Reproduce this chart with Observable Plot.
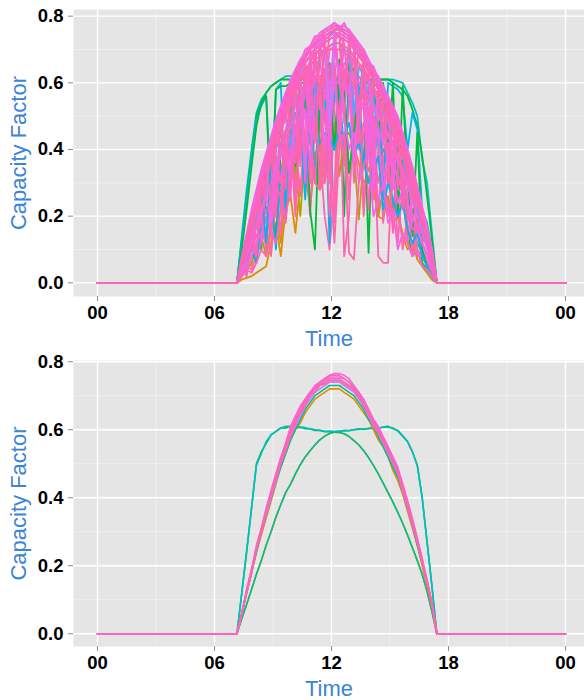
<!DOCTYPE html>
<html><head><meta charset="utf-8">
<script src="https://cdn.jsdelivr.net/npm/d3@7"></script>
<script src="https://cdn.jsdelivr.net/npm/@observablehq/plot@0.6"></script>
<style>
body{margin:0;background:#fff;font-family:"Liberation Sans",Arial,Helvetica,sans-serif;}
#chart svg{display:block}
</style></head><body><div id="chart"></div>
<script>
// time of day (hours) of the daytime samples; night is flat zero from 00 to 24
const hours = [7.15,7.4,7.65,7.9,8.15,8.4,  8.65,8.9,9.15,9.4,9.65,9.9,  10.15,10.4,10.65,10.9,11.15,11.4,
  11.65,11.9,12.15,12.4,12.65,12.9,  13.15,13.4,13.65,13.9,14.15,14.4,  14.65,14.9,15.15,15.4,15.65,15.9,
  16.15,16.4,16.65,16.9,17.15,17.4];
const dayStart = 0, dayEnd = 24;
const xTicks = [0,6,12,18,24];
const xTickLabels = ["00","06","12","18","00"];
const yTicks = [0,0.2,0.4,0.6,0.8];
const yTickLabels = ["0.0","0.2","0.4","0.6","0.8"];
const xMinor = [3,9,15,21];
const yMinor = [0.1,0.3,0.5,0.7];
const xTitle = "Time";
const yTitle = "Capacity Factor";
const clusters = [1,2,3,4,5,6,7,8,9,10,11,12];

// ---- top panel: daily capacity factor (percent) ----
const topO1 = [0,1,1.5,2,3,4, 5,12,18,8,22,26, 15,30,34,22,38,28, 36,42,40,45,43,33, 41,36,30,32,28,20, 19,26,18,20,14,10, 12,7,5,3,1,0];
const topP11 = [0,4,9,5,18,22, 14,31,35,22,44,47, 30,53,56,42,60,62, 48,65,66,52,66,65, 40,62,60,45,56,54, 35,48,45,30,38,33, 20,24,18,12,6,0];
const topG2 = [0,4,8,12,18,10, 26,30,12,40,44,48, 22,55,30,60,62,30, 64,66,40,67,20,66, 64,50,62,60,28,55, 52,48,18,42,38,15, 8,20,6,4,2,0];
const topP6 = [0,5,9,14,20,24, 12,35,38,30,45,50, 25,55,58,30,62,40, 20,10,28,65,8,20, 60,55,25,40,50,20, 45,40,18,35,30,15, 22,10,8,6,3,0];
const topO2 = [0,2,4,6,10,14, 8,18,22,12,28,32, 35,20,40,42,38,44, 30,46,48,32,44,45, 40,19,38,34,30,20, 28,24,18,20,15,12, 8,10,5,3,1,0];
const topP16 = [0,3,6,10,8,16, 20,14,26,30,22,36, 40,28,45,20,48,50, 30,52,18,54,52,25, 50,48,20,44,42,30, 38,35,15,30,27,12, 18,14,10,6,3,0];
const topT2 = [0,12,25,38,49,53, 56,28,58,60,20,61, 60,45,60,59,30,58, 57,12,58,57,40,58, 59,59,35,60,59,60, 25,60,59,58,56,40, 51,46,22,18,10,0];
const topP23 = [0,3,5,4,8,12, 16,8,24,28,18,34, 38,26,44,46,30,50, 52,20,54,55,35,54, 52,40,48,46,25,40, 36,20,30,27,10,20, 16,8,8,5,2,0];
const topP4 = [0,6,12,10,25,15, 36,40,20,50,54,35, 61,64,40,69,70,50, 73,30,74,75,60,72, 71,45,66,64,38,59, 56,54,30,47,42,20, 32,26,12,14,8,0];
const topG1 = [0,10,22,35,47,54, 56,20,58,59,59,60, 35,61,61,22,10,55, 60,58,40,60,59,33, 45,58,59,9,59,45, 60,38,60,20,59,30, 14,45,10,5,2,0];
const topP12 = [0,6,3,15,20,12, 30,34,25,42,46,50, 38,57,60,44,65,67, 55,70,71,60,70,69, 50,65,63,48,58,56, 42,50,46,35,40,35, 25,27,20,14,8,0];
const topP21 = [0,4,2,12,6,20, 10,28,32,14,40,44, 20,50,52,30,58,60, 35,64,65,40,64,63, 30,58,55,22,50,47, 18,42,38,12,30,26, 8,18,12,8,4,0];
const topB2 = [0,3,7,10,6,18, 22,26,10,34,38,30, 44,46,25,50,48,42, 45,44,40,46,44,48, 38,42,36,30,34,38, 22,30,25,20,24,16, 12,15,8,5,2,0];
const topP7 = [0,3,6,10,14,18, 22,15,30,25,38,42, 36,48,52,45,30,28, 31,35,12,40,45,9, 7,30,45,52,48,8, 6,6,40,38,34,30, 26,22,17,12,6,0];
const topTG1 = [0,4,9,14,19,24, 28,33,20,41,45,48, 51,40,56,58,59,60, 61,62,62,61,60,59, 57,55,35,50,47,44, 40,36,32,28,24,20, 16,12,9,6,3,0];
const topP28 = [0,5,10,14,19,24, 28,33,38,30,46,50, 53,56,32,60,62,28, 64,65,66,45,64,63, 62,60,58,38,54,51, 48,45,42,28,35,31, 26,21,16,11,6,0];
const topP13 = [0,5,11,16,9,27, 32,20,41,45,32,53, 56,40,62,64,45,68, 70,50,72,72,58,70, 68,42,64,61,45,56, 53,38,47,43,30,34, 28,20,17,11,5,0];
const topV2 = [0,5,10,15,20,26, 30,22,40,45,50,40, 58,48,63,66,55,69, 70,71,72,72,70,69, 50,65,62,60,57,40, 52,48,45,42,38,32, 28,22,17,11,6,0];
const topP5 = [0,4,10,16,8,28, 33,18,44,48,52,25, 60,62,65,45,68,70, 72,38,73,74,72,55, 70,68,66,40,61,58, 55,52,28,45,41,36, 18,25,19,13,7,0];
const topP19 = [0,2,5,8,12,15, 19,23,28,32,36,40, 44,47,50,53,55,57, 58,59,60,60,59,58, 57,55,53,51,48,45, 42,39,35,32,28,24, 20,16,12,8,4,0];
const topB1 = [0,5,11,16,22,28, 12,38,43,48,30,56, 60,63,66,68,50,71, 73,74,76,77,75,74, 72,55,67,64,61,58, 56,52,49,46,41,36, 30,25,19,13,7,0];
const topP20 = [0,6,12,18,8,30, 35,22,45,50,28,58, 62,35,68,70,42,73, 74,55,76,76,48,74, 72,52,67,64,35,58, 55,30,49,45,22,37, 31,15,20,14,8,0];
const topP14 = [0,7,13,19,25,17, 36,41,28,50,54,58, 44,64,67,52,71,73, 60,75,76,62,75,74, 58,70,67,50,62,59, 44,53,49,36,42,37, 24,28,21,15,9,0];
const topG3 = [0,13,26,39,50,54, 57,59,60,61,61,61, 60,60,60,60,59,59, 59,59,59,60,60,60, 60,60,60,60,61,61, 61,61,60,59,58,56, 52,47,38,26,13,0];
const topP15 = [0,3,8,12,17,21, 26,18,34,38,41,30, 47,50,52,36,56,58, 40,60,61,44,60,58, 36,54,52,38,47,44, 28,38,34,24,28,24, 16,17,12,8,4,0];
const topP25 = [0,7,13,19,26,31, 36,41,46,51,55,59, 62,65,68,70,72,73, 74,75,76,60,50,40, 45,30,35,40,20,25, 30,18,22,10,15,12, 8,10,5,4,2,0];
const topT1 = [0,14,28,40,51,55, 57,59,60,61,62,62, 62,62,61,61,60,60, 59,59,59,60,60,60, 60,60,60,61,61,61, 61,61,61,60.5,60,57, 54,50,37,30,15,0];
const topP24 = [0,2,4,3,6,10, 8,15,12,22,20,30, 40,50,60,66,70,72, 74,75,76,76,75,74, 72,70,68,65,62,60, 57,54,51,48,43,38, 33,28,22,16,9,0];
const topP1 = [0,7,13,20,26,32, 37,42,47,51,56,60, 63,66,68,70,72,74, 75,76,77,77,76,75, 73,71,69,66,63,61, 58,55,52,49,44,39, 34,28,22,16,9,0];
const topP29 = [0,4,8,13,17,22, 26,30,35,39,43,47, 50,53,56,58,60,62, 63,64,65,65,64,63, 62,60,58,56,53,50, 47,44,41,37,33,29, 24,20,15,10,5,0];
const topV1 = [0,6,12,18,24,30, 35,40,44,49,53,57, 61,63,66,68,70,72, 73,48,75,75,74,73, 71,69,67,64,61,58, 56,52,49,45,41,36, 31,25,19,13,7,0];
const topP18 = [0,5,10,15,21,26, 31,36,41,45,50,54, 57,60,63,65,67,68, 69,70,70,70,69,68, 67,65,63,60,57,55, 52,49,46,42,38,34, 29,24,18,13,7,0];
const topP2 = [0,5,11,17,23,29, 34,39,44,49,53,57, 61,64,66,68,70,71, 72,73,74,74,73,72, 71,69,66,64,61,58, 56,53,49,46,42,37, 31,26,20,14,8,0];
const topP22 = [0,6,12,18,24,30, 35,40,45,49,53,57, 60,63,30,68,70,71, 73,74,75,75,74,73, 71,69,67,64,28,58, 55,52,48,45,41,36, 30,25,19,13,7,0];
const topP8 = [0,6,12,18,24,29, 34,38,43,47,52,56, 59,62,64,66,69,70, 72,73,74,74,73,72, 70,68,66,63,61,58, 55,52,49,45,41,36, 31,26,20,14,8,0];
const topP26 = [0,6,11,17,23,28, 33,38,43,47,51,55, 58,61,63,65,67,55, 70,71,72,72,71,70, 68,66,64,62,59,56, 53,50,47,44,40,35, 30,24,18,13,7,0];
const topP9 = [0,7,12,19,24,31, 35,41,45,50,54,58, 62,65,67,70,71,73, 74,75,76,76,75,74, 72,70,68,65,62,60, 57,54,50,47,43,38, 32,27,21,15,9,0];
const topP3 = [0,8,15,22,28,34, 39,44,49,53,57,61, 64,67,69,71,73,75, 76,77,78,77,77,76, 74,72,70,67,64,62, 59,56,53,50,45,40, 35,29,23,17,10,0];
const topP27 = [0,7,13,19,26,32, 37,42,47,51,55,59, 63,66,68,70,72,73, 75,76,77,77,76,75, 73,71,69,66,63,61, 58,55,52,48,44,39, 34,28,22,16,10,0];
const topP17 = [0,6,14,20,27,33, 38,43,48,52,57,60, 64,66,70,71,74,74, 76,76,78,76,78,75, 74,71,70,66,65,61, 59,55,53,48,45,39, 34,29,22,16,10,0];
const topP10 = [0,6,13,19,25,31, 36,40,45,50,35,58, 62,65,68,70,72,52, 74,75,76,76,75,74, 72,70,67,65,62,59, 45,54,51,47,43,38, 33,27,20,14,8,0];

// day id, cluster, profile -- in drawing order
const topDays = [
  ["T1",7,topT1],["G3",5,topG3],["TG1",6,topTG1],
  ["O1",2,topO1],["P11",12,topP11],["G2",5,topG2],["P6",12,topP6],["O2",3,topO2],["P16",12,topP16],
  ["T2",8,topT2],["P23",12,topP23],["P4",12,topP4],["G1",5,topG1],["P12",11,topP12],["P21",12,topP21],
  ["B2",8,topB2],["P7",12,topP7],["P28",12,topP28],["P13",12,topP13],["V2",9,topV2],
  ["P5",11,topP5],["P19",11,topP19],["B1",8,topB1],["P20",12,topP20],["P14",12,topP14],
  ["P15",11,topP15],["P25",11,topP25],["P24",12,topP24],["P1",12,topP1],["P29",11,topP29],
  ["V1",10,topV1],["P18",12,topP18],["P2",12,topP2],["P22",11,topP22],["P8",12,topP8],["P26",12,topP26],
  ["P9",11,topP9],["P3",11,topP3],["P27",12,topP27],["P17",11,topP17],["P10",12,topP10]
];

// ---- bottom panel: cluster centroid profiles (percent) ----
const ctrFlatA = [0,12,24.5,37,49.5,53, 56.5,58.5,59.5,60.5,61,61, 61,60.8,60.6,60.3,60,59.8, 59.6,59.5,59.5,59.6,59.7,59.8, 60,60.1,60.2,60.3,60.4,60.5, 60.7,60.8,60.5,59.6,58,56.5, 53.5,49.5,40,27,14,0];
const ctrFlatB = [0,12,24,37,50,53.5, 56,58.5,59.5,60.5,60.5,61, 60.5,60.7,60.3,60.2,59.8,59.8, 59.4,59.5,59.3,59.5,59.8,59.7, 60,60.3,60.1,60.4,60.6,60.4, 60.8,61,60.3,59.8,58.2,56.5, 53.5,49.5,40,27,14,0];
const ctrLow = [0,4.5,8.7,13,17.5,21.5, 26,30,34.3,38,41.5,44, 47,49.7,52,53.8,55.5,57, 58.1,58.9,59.3,59.2,58.8,58, 56.8,55.5,53.8,51.8,49.5,47, 44.3,41.5,38.7,35.7,32.5,29, 25.3,21.5,17.5,12.5,6.5,0];
const ctrBellE = [0,6,12,18,24,29, 34,39,44,49,53,57, 60,62,65,67,69,70, 71,72,72,72,71,70, 69,67,65,63,60,57, 55,52,48,45,41,36, 31,26,20,14,8,0];
const ctrBellD = [0,6,12,18,24,30, 35,40,45,49,53,57, 60,63,66,68,70,71, 72,73,73,73,72,71, 70,68,66,63,61,58, 55,52,49,46,42,37, 32,26,21,15,9,0];
const ctrBellC = [0,6,12,18,25,30, 35,40,45,50,54,58, 61,64,67,69,71,72, 73,74,74,74,73,72, 71,69,67,64,61,59, 56,53,50,47,42,37, 32,27,21,15,9,0];
const ctrBellH = [0,6,12,18,25,30, 36,41,46,50,54,58, 62,65,67,70,71,73, 73.5,74.5,74.5,74.5,73.5,72.5, 71.5,69.5,67,64.5,61.5,59, 56.5,53.5,50.5,47,42.5,37.5, 32.5,27,21,15,9,0];
const ctrBellB = [0,6,12,18,25,30, 36,41,46,50,55,59, 62,65,68,70,72,73, 74,75,75,75,74,73, 72,70,67,65,62,59, 57,54,51,47,43,38, 33,27,21,15,9,0];
const ctrBellG = [0,6,12.5,18.5,25.5,30.5, 36.5,41.5,46.5,51,55.5,60, 63,66,68.5,70.5,72.5,73.5, 74.5,75.5,75.5,75.5,75,74, 72.5,70.5,68,65.5,62.5,60, 57.5,54.5,51.5,48,43.5,38.5, 33.5,27.5,21.5,15.5,9,0];
const ctrBellA = [0,6,13,19,26,31, 37,42,47,52,56,61, 64,67,69,71,73,74, 75,76,76.5,76.5,76,75, 73,71,69,66,63,61, 58,55,52,49,44,39, 34,28,22,16,9,0];
const ctrBellF = [0,6,13,19,25,31, 36,42,47,51,56,60, 63,66,69,71,72,74, 75,76,76,76,75,74, 72,71,68,66,63,60, 57,55,51,48,44,39, 33,28,22,15,9,0];

const bottomDays = [
  ["c2",2,ctrLow],["c6",6,ctrLow],["c5",5,ctrFlatB],["c7",7,ctrFlatA],
  ["c2b",2,ctrBellE],["c6b",6,ctrBellD],["c10",10,ctrBellC],["c12c",12,ctrBellH],["c12",12,ctrBellB],
  ["c11b",11,ctrBellG],["c11",11,ctrBellA],["c12b",12,ctrBellF]
];

const palette = ["#F8766D","#DE8C00","#B79F00","#7CAE00","#00BA38","#00C08B","#00BFC4","#00B4F0","#619CFF","#C77CFF","#F564E3","#FF64B0"];
const titleBlue = "#3C84D6";

function toRows(days){
  const out = [];
  for (const [id,k,vals] of days){
    out.push({id,k,t:dayStart,v:0});
    hours.forEach((t,i)=>out.push({id,k,t,v:vals[i]/100}));
    out.push({id,k,t:dayEnd,v:0});
  }
  return out;
}

function panel(days, yDomain, marginTop, plotH, strokeWidth){
  return Plot.plot({
    width:584, height:350, marginTop, marginBottom:350-marginTop-plotH, marginLeft:73, marginRight:0,
    x:{domain:[-1.2308,24.974], axis:null},
    y:{domain:yDomain, axis:null},
    color:{type:"ordinal", domain:clusters, range:palette},
    style:{background:"transparent", fontFamily:"'Liberation Sans',Arial,Helvetica,sans-serif", color:"#000", overflow:"visible"},
    marks:[
      Plot.frame({fill:"#E5E5E5", stroke:"none"}),
      Plot.gridX(xMinor,{stroke:"#F2F2F2", strokeOpacity:1, strokeWidth:0.8}),
      Plot.gridY(yMinor,{stroke:"#F2F2F2", strokeOpacity:1, strokeWidth:0.8}),
      Plot.gridX(xTicks,{stroke:"#FFFFFF", strokeOpacity:1, strokeWidth:1.4}),
      Plot.gridY(yTicks,{stroke:"#FFFFFF", strokeOpacity:1, strokeWidth:1.4}),
      Plot.axisX(xTicks,{tickFormat:d=>xTickLabels[xTicks.indexOf(d)], tickSize:5, tickPadding:4, stroke:"#8a8a8a", fill:"#000", fontSize:18.5, fontWeight:"bold", label:null}),
      Plot.axisY(yTicks,{tickFormat:d=>yTickLabels[yTicks.indexOf(d)], tickSize:5, tickPadding:5, stroke:"#8a8a8a", fill:"#000", fontSize:18.5, fontWeight:"bold", label:null}),
      Plot.text([xTitle],{frameAnchor:"bottom", dy:42, lineAnchor:"middle", fill:titleBlue, fontSize:22}),
      Plot.text([yTitle],{frameAnchor:"left", dx:-55, rotate:-90, lineAnchor:"middle", textAnchor:"middle", fill:titleBlue, fontSize:22}),
      Plot.line(toRows(days),{x:"t", y:"v", z:"id", stroke:"k", strokeWidth, curve:"linear"})
    ]
  });
}
const el = document.getElementById("chart");
el.appendChild(panel(topDays, [-0.041,0.82], 9, 287, 1.8));
el.appendChild(panel(bottomDays, [-0.0375,0.8035], 10, 286, 1.6));
</script></body></html>
